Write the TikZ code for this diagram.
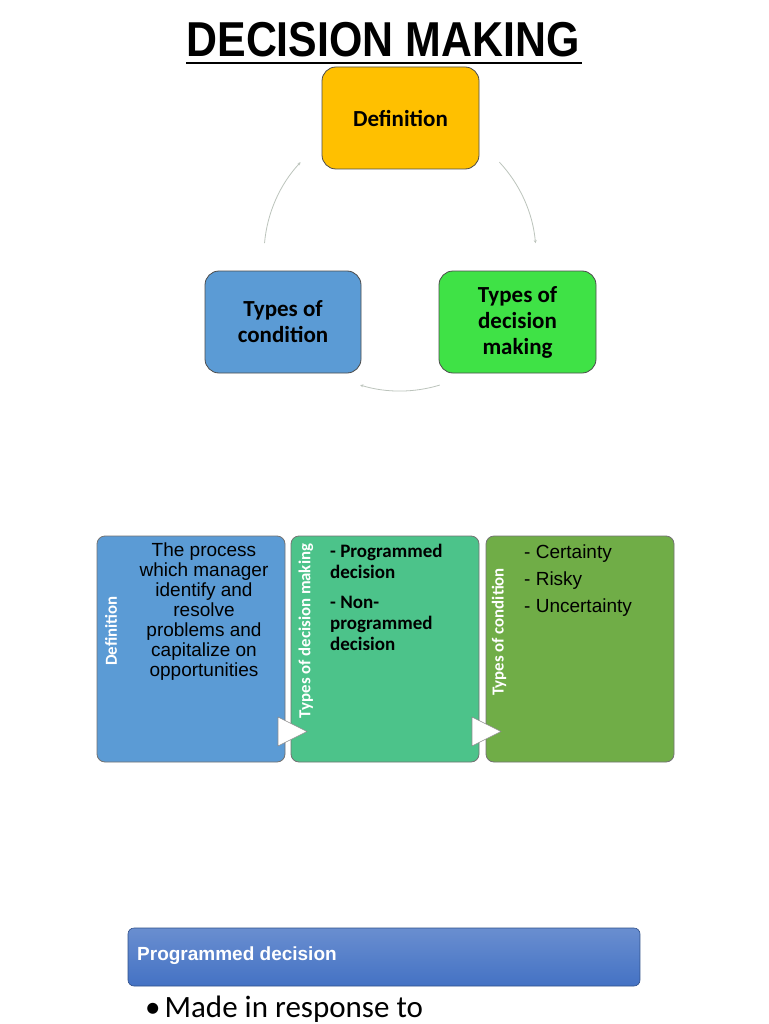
\documentclass[tikz,border=0pt]{standalone}
\usepackage{fontspec}
\setmainfont{Liberation Sans}
\newfontfamily\carfont{Carlito}
\usetikzlibrary{arrows.meta,calc}
\definecolor{cYellow}{HTML}{FFC000}
\definecolor{cBlue}{HTML}{5B9BD5}
\definecolor{cGreen}{HTML}{3FE246}
\definecolor{cSea}{HTML}{4CC38A}
\definecolor{cOlive}{HTML}{70AD47}
\definecolor{cBanner}{HTML}{4472C4}
\definecolor{cArc}{HTML}{BCC4BC}
\tikzset{
  topbox/.style={draw=black!70, line width=0.8pt, rounded corners=14pt, minimum width=#1, minimum height=102pt, align=center, font=\carfont\bfseries\fontsize{23}{26}\selectfont, text=black},
  panel/.style={draw=black!55, line width=0.8pt, rounded corners=8pt, minimum width=188pt, minimum height=226pt},
  sidelabel/.style={rotate=90, text=white, font=\carfont\bfseries\fontsize{16.8}{20}\selectfont},
  cyc/.style={draw=cArc, line width=0.8pt, -{Stealth[length=3pt,width=3pt]}},
  chev/.style={fill=white, draw=black!45, line width=0.6pt, line join=round},
}
\begin{document}
\begin{tikzpicture}[x=1pt,y=-1pt]
\useasboundingbox (0,0) rectangle (768,1024);
\fill[white] (0,0) rectangle (768,1024);
% title
\node[font=\bfseries\fontsize{49}{56}\selectfont, inner sep=0pt, xscale=0.875] (title) at (383,40) {DECISION MAKING};
\draw[line width=2.5pt] (186,63) -- (582,63);
% cycle
\node[topbox=157pt, fill=cYellow] (def) at (400.5,118) {Definition};
\node[topbox=156pt, fill=cBlue] (cond) at (283,322) {Types of\\condition};
\node[topbox=157pt, fill=cGreen] (tdm) at (517.5,322) {Types of\\decision\\making};
\coordinate (c) at (400,255);
\coordinate (a1) at ($(c)+(185:136)$);
\coordinate (a2) at ($(c)+(-43:136)$);
\coordinate (a3) at ($(c)+(73:136)$);
\draw[cyc] (a1) arc[start angle=185, end angle=223, radius=136];
\draw[cyc] (a2) arc[start angle=-43, end angle=-5, radius=136];
\draw[cyc] (a3) arc[start angle=73, end angle=107, radius=136];
% panels
\node[panel, fill=cBlue] (p1) at (191,649) {};
\node[panel, fill=cSea] (p2) at (385,649) {};
\node[panel, fill=cOlive] (p3) at (580,649) {};
\node[sidelabel] (l1) at (111,631) {Definition};
\node[sidelabel] (l2) at (306,631) {Types of decision making};
\node[sidelabel] (l3) at (499,632) {Types of condition};
\node[anchor=north, align=center, font=\fontsize{19}{20}\selectfont, inner sep=0pt] (t1) at (204,543)
  {The process\\which manager\\identify and\\resolve\\problems and\\capitalize on\\opportunities};
\node[anchor=north west, align=left, font=\carfont\bfseries\fontsize{19}{21}\selectfont, inner sep=0pt] (t2) at (330,544)
  {- Programmed\\decision\\[9pt]- Non-\\programmed\\decision};
\node[anchor=north west, align=left, font=\fontsize{19}{27}\selectfont, inner sep=0pt] (t3) at (524,545)
  {- Certainty\\- Risky\\- Uncertainty};
\draw[chev] (278,717) -- (307,731.5) -- (278,746) -- cycle;
\draw[chev] (472,717) -- (501,731.5) -- (472,746) -- cycle;
% banner
\node[draw=cBanner!70!black, line width=0.6pt, rounded corners=6pt, top color=cBanner!80!white, bottom color=cBanner, minimum width=512pt, minimum height=58pt] (ban) at (384,957) {};
\node[anchor=west, text=white, font=\bfseries\fontsize{19}{22}\selectfont, inner sep=0pt] (bant) at (137,956) {Programmed decision};
\node[anchor=base west, font=\carfont\fontsize{31}{34}\selectfont, inner sep=0pt] (bul) at (145,1017) {•\hspace{4pt}Made in response to};
\end{tikzpicture}
\end{document}
